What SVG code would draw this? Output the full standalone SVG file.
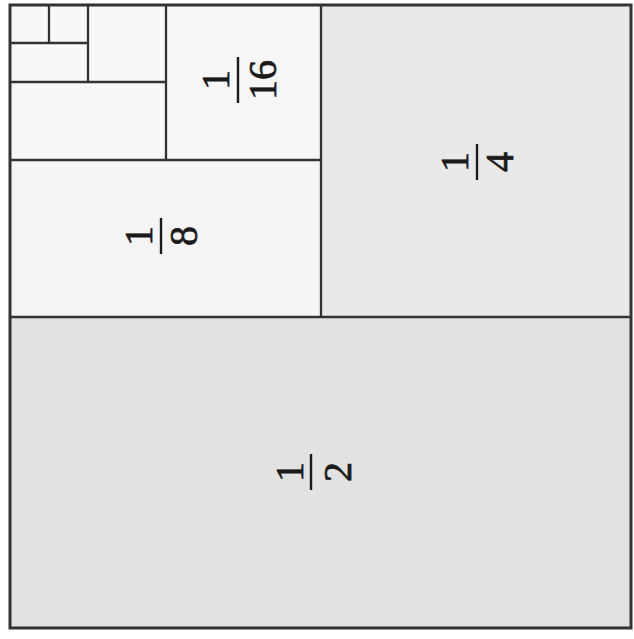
<svg xmlns="http://www.w3.org/2000/svg" width="634" height="639" viewBox="0 0 634 639">
<style>
.ln{stroke:#333333;stroke-width:2.3;fill:none}
.fr{font-family:"Liberation Serif","DejaVu Serif",serif;font-size:40px;fill:#1a1a1a;stroke:#1a1a1a;stroke-width:0.7;text-anchor:middle}
.bar{stroke:#1a1a1a;stroke-width:2.4}
</style>
<rect width="634" height="639" fill="#ffffff"/>
<g id="half"><rect x="10" y="317" width="621" height="311" fill="#e2e2e2"/></g>
<g id="quarter"><rect x="321" y="5" width="310" height="312" fill="#e9e9e9"/></g>
<g id="eighth"><rect x="10" y="160" width="311" height="157" fill="#f5f5f5"/></g>
<g id="sixteenth"><rect x="166" y="5" width="155" height="155" fill="#f7f7f7"/></g>
<g id="rest"><rect x="10" y="5" width="156" height="155" fill="#f8f8f8"/></g>
<g id="connectors">
<line class="ln" x1="10" y1="317" x2="631" y2="317"/>
<line class="ln" x1="321" y1="5" x2="321" y2="317"/>
<line class="ln" x1="10" y1="160" x2="321" y2="160"/>
<line class="ln" x1="166" y1="5" x2="166" y2="160"/>
<line class="ln" x1="10" y1="82" x2="166" y2="82"/>
<line class="ln" x1="88" y1="5" x2="88" y2="82"/>
<line class="ln" x1="10" y1="43" x2="88" y2="43"/>
<line class="ln" x1="49" y1="5" x2="49" y2="43"/>
<rect x="10" y="5" width="621" height="623" fill="none" stroke="#333333" stroke-width="3"/>
</g>
<g id="label-half" transform="translate(311,472) rotate(-90)">
<text class="fr" x="0" y="-8">1</text><line class="bar" x1="-18" y1="0" x2="18" y2="0"/><text class="fr" x="0" y="40">2</text>
</g>
<g id="label-quarter" transform="translate(477,162) rotate(-90)">
<text class="fr" x="0" y="-9">1</text><line class="bar" x1="-18" y1="0" x2="18" y2="0"/><text class="fr" x="0" y="36">4</text>
</g>
<g id="label-eighth" transform="translate(161,236) rotate(-90)">
<text class="fr" x="0" y="-9">1</text><line class="bar" x1="-18" y1="0" x2="18" y2="0"/><text class="fr" x="0" y="36">8</text>
</g>
<g id="label-sixteenth" transform="translate(238,80) rotate(-90)">
<text class="fr" x="0" y="-9">1</text><line class="bar" x1="-23" y1="0" x2="23" y2="0"/><text class="fr" x="0" y="38">16</text>
</g>
</svg>
